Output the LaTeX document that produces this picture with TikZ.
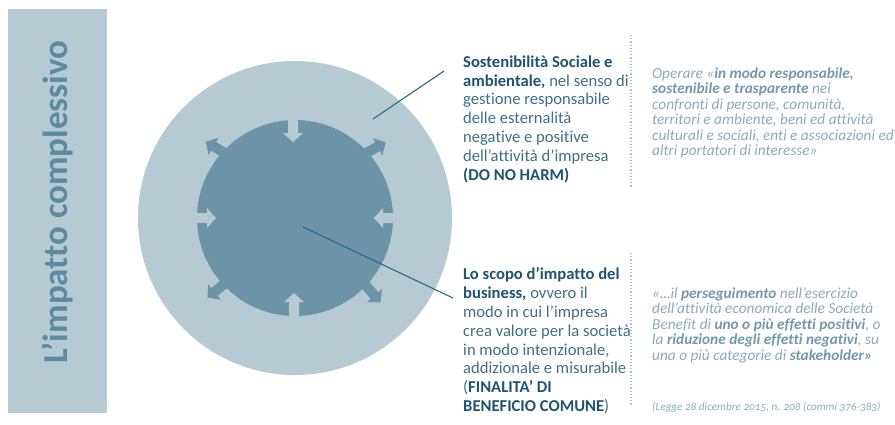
\documentclass[tikz,border=0pt]{standalone}
\usepackage{fontspec}
\setmainfont{Carlito}[Numbers=OldStyle, Ligatures=CommonOff]
\definecolor{barc}{HTML}{B6CAD3}
\definecolor{innerc}{HTML}{6B94A7}
\definecolor{titlec}{HTML}{5C8BA1}
\definecolor{boldc}{HTML}{1F5370}
\definecolor{bodyc}{HTML}{3F6E86}
\definecolor{quotec}{HTML}{8AAABB}
\definecolor{quotebc}{HTML}{7398AB}
\definecolor{linec}{HTML}{2B6888}
\definecolor{dotc}{HTML}{A8C1CD}
\newcommand{\blockarrow}[4]{%
  \fill[#1, shift={(#2)}, rotate=#3] (-6,-5) -- (#4-9,-5) -- (#4-9,-10) -- (#4,0) -- (#4-9,10) -- (#4-9,5) -- (-6,5) -- cycle;}
\newcommand{\bb}[1]{\textbf{\color{boldc}#1}}
\newcommand{\qb}[1]{\textbf{\color{quotebc}#1}}
\tikzset{
  conn/.style={draw=linec, line width=1.1pt},
  dotline/.style={draw=dotc, line width=1.2pt, dotted},
  body/.style={anchor=base west, align=left, inner sep=0pt, text=bodyc, font={\fontsize{16.6}{18.8}\selectfont}},
  quote/.style={anchor=base west, align=left, inner sep=0pt, text=quotec, font={\fontsize{15.3}{15.5}\selectfont\itshape}}
}
\begin{document}
\begin{tikzpicture}[x=1pt,y=-1pt]
\useasboundingbox (0,0) rectangle (895,424);
% left bar
\fill[barc] (8,9) rectangle (107,413);
\node[rotate=90, anchor=base, inner sep=0pt, text=titlec, font={\fontsize{35}{35}\selectfont\bfseries}] (title) at (67,202) {L’impatto complessivo};
% circles
\fill[barc] (295,218) circle (157);
\fill[innerc] (295,218) circle (98);
% outward diagonal arrows
\blockarrow{innerc}{223,152}{149}{20}
\blockarrow{innerc}{368,152}{29}{20}
\blockarrow{innerc}{223,285}{219}{20}
\blockarrow{innerc}{368,288}{-49}{19}
% inward arrows
\blockarrow{barc}{293,120}{-90}{22}
\blockarrow{barc}{197,218}{0}{19}
\blockarrow{barc}{393,218}{180}{19}
\blockarrow{barc}{294,316}{90}{23}
% connectors
\coordinate (l1a) at (373,119);
\coordinate (l1b) at (444,71);
\coordinate (l2a) at (303,227);
\coordinate (l2b) at (453,298);
\draw[conn] (l1a) -- (l1b);
\draw[conn] (l2a) -- (l2b);
% text blocks (anchor base = baseline of last line)
\node[body] (t1) at (463,180) {\bb{Sostenibilità Sociale e}\\
\bb{ambientale,} nel senso di\\
gestione responsabile\\
delle esternalità\\
negative e positive\\
dell’attività d’impresa\\
\bb{(DO NO HARM)}};
\node[body] (t2) at (463,411.5) {\bb{Lo scopo d’impatto del}\\
\bb{business,} ovvero il\\
modo in cui l’impresa\\
crea valore per la società\\
in modo intenzionale,\\
addizionale e misurabile\\
(\bb{FINALITA’ DI}\\
\bb{BENEFICIO COMUNE})};
% dotted separators
\coordinate (d1a) at (631,35);
\coordinate (d1b) at (631,188);
\coordinate (d2a) at (631,253);
\coordinate (d2b) at (631,405);
\draw[dotline] (d1a) -- (d1b);
\draw[dotline] (d2a) -- (d2b);
% quotes
\node[quote] (q1) at (652,155.7) {Operare «\qb{in modo responsabile,}\\
\qb{sostenibile e trasparente} nei\\
confronti di persone, comunità,\\
territori e ambiente, beni ed attività\\
culturali e sociali, enti e associazioni ed\\
altri portatori di interesse»};
\node[quote] (q2) at (652,360) {«…il \qb{perseguimento} nell’esercizio\\
dell’attività economica delle Società\\
Benefit di \qb{uno o più effetti positivi}, o\\
la \qb{riduzione degli effetti negativi}, su\\
una o più categorie di \qb{stakeholder»}};
\node[anchor=base west, inner sep=0pt, text=quotec, font={\fontsize{11.2}{12}\selectfont\itshape}] (cit) at (652,410) {(Legge 28 dicembre 2015, n. 208 (commi 376-383)};
\end{tikzpicture}
\end{document}
